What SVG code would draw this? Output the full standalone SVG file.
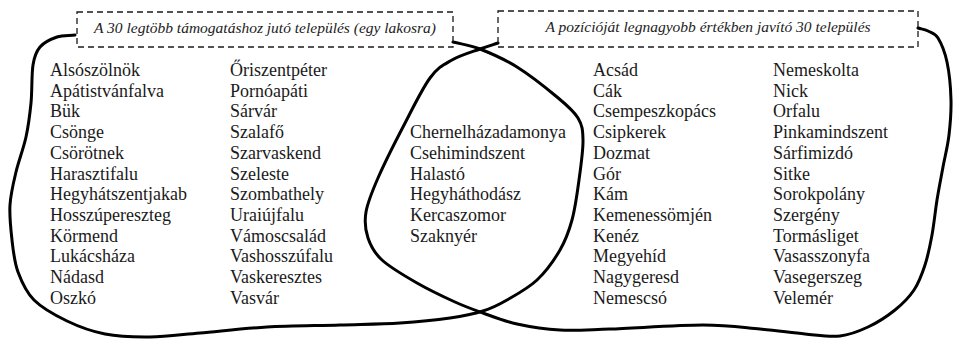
<svg xmlns="http://www.w3.org/2000/svg" width="953" height="339" viewBox="0 0 953 339">
<style>
  .bg{fill:#ffffff}
  .lbl{fill:none;stroke:#1a1a1a;stroke-width:1.3;stroke-dasharray:6 4}
  .ttl{font-family:"Liberation Serif","Times New Roman",serif;font-style:italic;font-size:15.5px;fill:#222;text-anchor:middle}
  .nm{font-family:"Liberation Serif","Times New Roman",serif;font-size:18px;fill:#1a1a1a}
  .set{fill:none;stroke:#000;stroke-width:3;stroke-linecap:round;stroke-linejoin:round}
</style>
<rect class="bg" x="0" y="0" width="953" height="339"/>

<g id="outlines">
  <path id="set-a" class="set" d="M75,35 C69,35.7 62.8,35 57,37 S44,42.3 40,47 S34.5,55.7 33,65 S32.2,91 31,103 S28.5,125.5 26,137 S18.7,160.7 16,172 S10.7,193.7 10,205 S10.7,228.8 12,240 S14.3,262 18,272 S25.8,291.8 34,300 S55.2,315.3 67,321 S91.2,331.3 105,334 S134.2,337.2 150,337 S180.5,334.7 200,333 S243.7,328.3 267,327 S317.8,325.7 340,325 S381.7,324.2 400,323 S436.2,320 450,318 S473.5,314 483,311 S498,305.2 507,300 S528.2,288.3 537,280 S554.2,260 560,250 S568.8,231.7 572,220 S577.2,193.3 579,180 S583.2,150.3 583,140 S582.3,125.2 578,118 S567.2,105.5 557,97 S529.8,75 517,67 S490.7,53.2 480,49 S462,44.3 453,42"/>
  <path id="set-b" class="set" d="M498,43 C492,45 487.7,46.2 480,49 S460.3,55.2 452,60 S438.2,66.8 430,78 S411.7,110.3 403,127 S384.2,163.8 378,178 S367.7,202 366,212 S365.3,230 368,238 S373.8,252.5 382,260 S404.8,276 417,283 S444,297 455,302 S472.7,309.3 483,313 S504.2,321.2 517,324 S544.5,329.2 560,330 S586.2,329.8 610,329 S678,325 703,325 S743,327.5 760,329 S791.7,332.8 805,334 S829.5,337.2 840,336 S858.8,331.3 868,327 S887.3,316.2 895,310 S909,297.5 914,290 S922,274.2 925,265 S930,245.8 932,235 S935.2,211.3 937,200 S941,177.8 943,167 S947.7,146.2 949,135 S951.3,112.2 951,100 S949.2,72.3 947,62 S941.2,43.2 938,38 S931.3,32.7 928,31 S921.3,29 918,28"/>
</g>

<g id="label-a">
  <rect class="lbl" x="77" y="12" width="376" height="35"/>
  <text class="ttl" x="265" y="33">A 30 legtöbb támogatáshoz jutó település (egy lakosra)</text>
</g>
<g id="label-b">
  <rect class="lbl" x="498" y="11" width="420" height="36"/>
  <text class="ttl" x="708" y="32">A pozícióját legnagyobb értékben javító 30 település</text>
</g>

<g id="only-a-col1" class="nm">
  <text x="50" y="76">Alsószölnök</text>
  <text x="50" y="96.7">Apátistvánfalva</text>
  <text x="50" y="117.4">Bük</text>
  <text x="50" y="138.1">Csönge</text>
  <text x="50" y="158.8">Csörötnek</text>
  <text x="50" y="179.5">Harasztifalu</text>
  <text x="50" y="200.2">Hegyhátszentjakab</text>
  <text x="50" y="220.9">Hosszúpereszteg</text>
  <text x="50" y="241.6">Körmend</text>
  <text x="50" y="262.3">Lukácsháza</text>
  <text x="50" y="283">Nádasd</text>
  <text x="50" y="303.7">Oszkó</text>
</g>
<g id="only-a-col2" class="nm">
  <text x="230" y="76">Őriszentpéter</text>
  <text x="230" y="96.7">Pornóapáti</text>
  <text x="230" y="117.4">Sárvár</text>
  <text x="230" y="138.1">Szalafő</text>
  <text x="230" y="158.8">Szarvaskend</text>
  <text x="230" y="179.5">Szeleste</text>
  <text x="230" y="200.2">Szombathely</text>
  <text x="230" y="220.9">Uraiújfalu</text>
  <text x="230" y="241.6">Vámoscsalád</text>
  <text x="230" y="262.3">Vashosszúfalu</text>
  <text x="230" y="283">Vaskeresztes</text>
  <text x="230" y="303.7">Vasvár</text>
</g>
<g id="both" class="nm">
  <text x="410" y="138.1">Chernelházadamonya</text>
  <text x="410" y="158.8">Csehimindszent</text>
  <text x="410" y="179.5">Halastó</text>
  <text x="410" y="200.2">Hegyháthodász</text>
  <text x="410" y="220.9">Kercaszomor</text>
  <text x="410" y="241.6">Szaknyér</text>
</g>
<g id="only-b-col1" class="nm">
  <text x="593" y="76">Acsád</text>
  <text x="593" y="96.7">Cák</text>
  <text x="593" y="117.4">Csempeszkopács</text>
  <text x="593" y="138.1">Csipkerek</text>
  <text x="593" y="158.8">Dozmat</text>
  <text x="593" y="179.5">Gór</text>
  <text x="593" y="200.2">Kám</text>
  <text x="593" y="220.9">Kemenessömjén</text>
  <text x="593" y="241.6">Kenéz</text>
  <text x="593" y="262.3">Megyehíd</text>
  <text x="593" y="283">Nagygeresd</text>
  <text x="593" y="303.7">Nemescsó</text>
</g>
<g id="only-b-col2" class="nm">
  <text x="773" y="76">Nemeskolta</text>
  <text x="773" y="96.7">Nick</text>
  <text x="773" y="117.4">Orfalu</text>
  <text x="773" y="138.1">Pinkamindszent</text>
  <text x="773" y="158.8">Sárfimizdó</text>
  <text x="773" y="179.5">Sitke</text>
  <text x="773" y="200.2">Sorokpolány</text>
  <text x="773" y="220.9">Szergény</text>
  <text x="773" y="241.6">Tormásliget</text>
  <text x="773" y="262.3">Vasasszonyfa</text>
  <text x="773" y="283">Vasegerszeg</text>
  <text x="773" y="303.7">Velemér</text>
</g>
</svg>
